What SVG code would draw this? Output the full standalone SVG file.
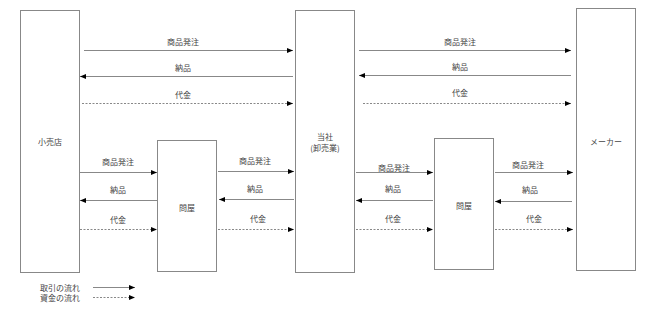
<svg xmlns="http://www.w3.org/2000/svg" width="650" height="313" viewBox="0 0 650 313">
<style>
.box{fill:#fff;stroke:#888;stroke-width:1}
.t{font-family:"Noto Sans CJK JP","Noto Sans CJK SC",sans-serif;font-size:8px;fill:#444;text-anchor:middle;dominant-baseline:central}
.tl{font-family:"Noto Sans CJK JP","Noto Sans CJK SC",sans-serif;font-size:8px;fill:#444;text-anchor:start;dominant-baseline:central}
.s{stroke:#888;stroke-width:1;fill:none;marker-end:url(#ah)}
.d{stroke:#888;stroke-width:1;fill:none;stroke-dasharray:2,1.5;marker-end:url(#ah)}
</style>
<defs>
<marker id="ah" viewBox="0 0 6 6" refX="6" refY="3" markerWidth="6" markerHeight="6" markerUnits="userSpaceOnUse" orient="auto">
<path d="M0,0.5 L6,3 L0,5.5 Z" fill="#000"/>
</marker>
</defs>
<rect width="650" height="313" fill="#fff"/>
<g id="retail"><rect class="box" x="20.5" y="10.5" width="59" height="262"/><text class="t" x="50" y="141">小売店</text></g>
<g id="company"><rect class="box" x="295.5" y="10.5" width="59" height="262"/><text class="t" x="325" y="136">当社</text><text class="t" x="325" y="147">(卸売業)</text></g>
<g id="maker"><rect class="box" x="576.5" y="8.5" width="59" height="262"/><text class="t" x="606" y="141">メーカー</text></g>
<g id="wholesaler1"><rect class="box" x="157.5" y="140.5" width="59" height="131"/><text class="t" x="187" y="207">問屋</text></g>
<g id="wholesaler2"><rect class="box" x="434.5" y="138.5" width="59" height="131"/><text class="t" x="464" y="205">問屋</text></g>
<g id="connectors">
<line class="s" x1="84" y1="50.5" x2="293" y2="50.5"/>
<line class="s" x1="293" y1="76.5" x2="80" y2="76.5"/>
<line class="d" x1="82" y1="103.5" x2="293" y2="103.5"/>
<line class="s" x1="359" y1="50.5" x2="571" y2="50.5"/>
<line class="s" x1="571" y1="75.5" x2="359" y2="75.5"/>
<line class="d" x1="363" y1="103.5" x2="571" y2="103.5"/>
<line class="s" x1="80" y1="172.5" x2="157" y2="172.5"/>
<line class="s" x1="157" y1="200.5" x2="80" y2="200.5"/>
<line class="d" x1="80" y1="229.5" x2="157" y2="229.5"/>
<line class="s" x1="218" y1="171.5" x2="294" y2="171.5"/>
<line class="s" x1="294" y1="199.5" x2="219" y2="199.5"/>
<line class="d" x1="218" y1="229.5" x2="294" y2="229.5"/>
<line class="s" x1="356" y1="172.5" x2="433" y2="172.5"/>
<line class="s" x1="433" y1="200.5" x2="356" y2="200.5"/>
<line class="d" x1="356" y1="229.5" x2="433" y2="229.5"/>
<line class="s" x1="495" y1="172.5" x2="573" y2="172.5"/>
<line class="s" x1="572" y1="201.5" x2="495" y2="201.5"/>
<line class="d" x1="495" y1="229.5" x2="573" y2="229.5"/>
<line class="s" x1="93" y1="287.5" x2="135" y2="287.5"/>
<line class="d" x1="93" y1="297.5" x2="135" y2="297.5"/>
</g>
<g id="labels">
<text class="t" x="183" y="41">商品発注</text>
<text class="t" x="183" y="67">納品</text>
<text class="t" x="183" y="94">代金</text>
<text class="t" x="460" y="41">商品発注</text>
<text class="t" x="460" y="66">納品</text>
<text class="t" x="460" y="92">代金</text>
<text class="t" x="118" y="161">商品発注</text>
<text class="t" x="118" y="189">納品</text>
<text class="t" x="118" y="219">代金</text>
<text class="t" x="255" y="160">商品発注</text>
<text class="t" x="255" y="188">納品</text>
<text class="t" x="258" y="218">代金</text>
<text class="t" x="394" y="167">商品発注</text>
<text class="t" x="393" y="188">納品</text>
<text class="t" x="393" y="218">代金</text>
<text class="t" x="528" y="164">商品発注</text>
<text class="t" x="530" y="189">納品</text>
<text class="t" x="534" y="218">代金</text>
<text class="tl" x="40" y="287">取引の流れ</text>
<text class="tl" x="40" y="297">資金の流れ</text>
</g>
</svg>
